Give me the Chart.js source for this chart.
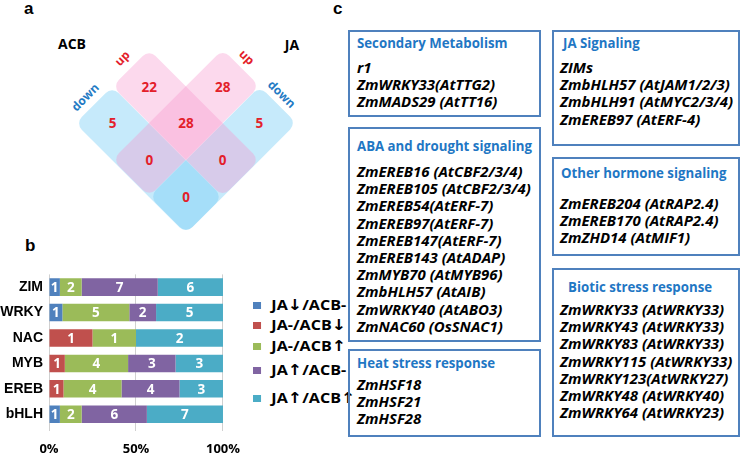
<!DOCTYPE html>
<html>
<head>
<meta charset="utf-8">
<script src="https://cdn.jsdelivr.net/npm/chart.js"></script>
<style>
  body { margin:0; width:742px; height:458px; position:relative; overflow:hidden; background:#fff; font-family:"Open Sans", "Noto Sans", sans-serif; }
  .abs { position:absolute; white-space:nowrap; }
  .panel { font-family:"Liberation Sans", Arial, sans-serif; font-weight:bold; font-size:17px; line-height:16px; color:#000; }
  .rect { position:absolute; border-radius:9px; }
  .num { position:absolute; color:#e3202a; font-weight:bold; font-size:13.5px; transform:translate(-50%,-50%); }
  .lab { position:absolute; font-weight:bold; font-size:14px; transform:translate(-50%,-50%); }
  .box { position:absolute; border:2px solid #4f81bd; box-sizing:border-box; z-index:2; }
  .title { position:absolute; color:#1f77c4; font-weight:bold; font-size:14px; line-height:16px; transform-origin:0 50%; white-space:nowrap; }
  .item { position:absolute; color:#000; font-weight:bold; font-style:italic; font-size:13.5px; line-height:16px; transform-origin:0 50%; white-space:nowrap; }
  .leg { position:absolute; font-weight:bold; font-size:14px; line-height:16px; transform-origin:0 50%; white-space:nowrap; }
  .leg span { display:inline-block; width:7px; height:7px; margin-right:9px; vertical-align:middle; position:relative; top:-1px; }
  .leg b { font-family:"DejaVu Sans", sans-serif; font-weight:bold; font-size:15px; }
</style>
</head>
<body>
<div class="abs panel" style="left:24px;top:1px;">a</div>
<div class="abs panel" style="left:25px;top:238px;">b</div>
<div class="abs panel" style="left:333px;top:1px;">c</div>

<div id="venn"></div>
<div id="chartBox" class="abs" style="left:0;top:260px;width:250px;height:198px;">
  <canvas id="barChart" width="250" height="198"></canvas>
</div>
<div id="legendBox" class="abs" style="left:250px;top:290px;width:100px;height:125px;"></div>
<div id="boxes"></div>

<script>
// panel a: venn counts
const vennCounts = { acbUpOnly: 22, jaUpOnly: 28, both: 28, acbDownOnly: 5, jaDownOnly: 5, acbDownJaUp: 0, acbUpJaDown: 0, bothDown: 0 };

// panel b: stacked bars (gene counts per family)
const categories = ['ZIM', 'WRKY', 'NAC', 'MYB', 'EREB', 'bHLH'];
const seriesNames = ['JA\u2193/ACB-', 'JA-/ACB\u2193', 'JA-/ACB\u2191', 'JA\u2191/ACB-', 'JA\u2191/ACB\u2191'];
const jaDownAcbNone = [1, 1, 0, 0, 0, 1];
const jaNoneAcbDown = [0, 0, 1, 1, 1, 0];
const jaNoneAcbUp   = [2, 5, 1, 4, 4, 2];
const jaUpAcbNone   = [7, 2, 0, 3, 4, 6];
const jaUpAcbUp     = [6, 5, 2, 3, 3, 7];
const seriesColors = ['#4f81bd', '#c0504d', '#9bbb59', '#8064a2', '#4bacc6'];
const xTicks = [0, 50, 100];

// panel c: gene lists
const secondaryMetabolism = ['r1', 'ZmWRKY33(AtTTG2)', 'ZmMADS29 (AtTT16)'];
const abaDrought = ['ZmEREB16 (AtCBF2/3/4)', 'ZmEREB105 (AtCBF2/3/4)', 'ZmEREB54(AtERF-7)', 'ZmEREB97(AtERF-7)',
  'ZmEREB147(AtERF-7)', 'ZmEREB143 (AtADAP)', 'ZmMYB70 (AtMYB96)', 'ZmbHLH57 (AtAIB)', 'ZmWRKY40 (AtABO3)', 'ZmNAC60 (OsSNAC1)'];
const heatStress = ['ZmHSF18', 'ZmHSF21', 'ZmHSF28'];
const jaSignaling = ['ZIMs', 'ZmbHLH57 (AtJAM1/2/3)', 'ZmbHLH91 (AtMYC2/3/4)', 'ZmEREB97 (AtERF-4)'];
const otherHormone = ['ZmEREB204 (AtRAP2.4)', 'ZmEREB170 (AtRAP2.4)', 'ZmZHD14 (AtMIF1)'];
const bioticStress = ['ZmWRKY33 (AtWRKY33)', 'ZmWRKY43 (AtWRKY33)', 'ZmWRKY83 (AtWRKY33)', 'ZmWRKY115 (AtWRKY33)',
  'ZmWRKY123(AtWRKY27)', 'ZmWRKY48 (AtWRKY40)', 'ZmWRKY64 (AtWRKY23)'];

// squeeze a group of texts so a sample line gets the width seen in the figure
function fitWidth(els, sampleEl, target) {
  const s = target / sampleEl.offsetWidth;
  els.forEach(el => { el.style.transform = `translateY(-50%) scaleX(${s})`; });
}

// ---- venn (diamond grid) ----
const venn = document.getElementById('venn');
const cx0 = 186, cy0 = 123.3, d = 36.7;      // centre cell, half diagonal
const side = d * Math.SQRT2;
const cell = (i, j) => [cx0 + d * (i - j), cy0 + d * (i + j)];
const pink = 'rgba(247,150,205,0.36)', blue = 'rgba(120,205,245,0.42)';
[
  { c: cell(0, 1), rot: 45, col: blue },   // ACB down
  { c: cell(1, 0), rot: -45, col: blue },  // JA down
  { c: cell(0, 0), rot: 45, col: pink },   // ACB up
  { c: cell(0, 0), rot: -45, col: pink }   // JA up
].forEach(r => {
  const el = document.createElement('div');
  el.className = 'rect';
  el.style.cssText += `left:${r.c[0] - side * 1.5}px;top:${r.c[1] - side / 2}px;width:${side * 3}px;height:${side}px;background:${r.col};transform:rotate(${r.rot}deg);`;
  venn.appendChild(el);
});
[
  [cell(-1, 0), vennCounts.acbUpOnly], [cell(0, -1), vennCounts.jaUpOnly], [cell(0, 0), vennCounts.both],
  [cell(-1, 1), vennCounts.acbDownOnly], [cell(1, -1), vennCounts.jaDownOnly], [cell(0, 1), vennCounts.acbDownJaUp],
  [cell(1, 0), vennCounts.acbUpJaDown], [cell(1, 1), vennCounts.bothDown]
].forEach(([p, v]) => {
  const el = document.createElement('div');
  el.className = 'num';
  el.style.left = p[0] + 'px'; el.style.top = p[1] + 'px';
  el.textContent = v;
  venn.appendChild(el);
});
[
  { t: 'ACB', x: 72, y: 43, col: '#000', rot: 0, size: 14 },
  { t: 'JA', x: 292, y: 44, col: '#000', rot: 0, size: 14 },
  { t: 'up', x: 122, y: 58, col: '#e3202a', rot: -45, size: 12 },
  { t: 'down', x: 85, y: 97, col: '#1f7ac4', rot: -45, size: 12 },
  { t: 'up', x: 247, y: 57, col: '#e3202a', rot: 45, size: 12 },
  { t: 'down', x: 282, y: 94, col: '#1f7ac4', rot: 45, size: 12 }
].forEach(l => {
  const el = document.createElement('div');
  el.className = 'lab';
  el.style.cssText += `left:${l.x}px;top:${l.y}px;color:${l.col};font-size:${l.size}px;transform:translate(-50%,-50%) rotate(${l.rot}deg);`;
  el.textContent = l.t;
  venn.appendChild(el);
});

// ---- stacked bar chart ----
const countSeries = [jaDownAcbNone, jaNoneAcbDown, jaNoneAcbUp, jaUpAcbNone, jaUpAcbUp];
const totals = categories.map((_, i) => countSeries.reduce((s, arr) => s + arr[i], 0));

const countLabels = {
  id: 'countLabels',
  afterDatasetsDraw(chart) {
    const ctx = chart.ctx;
    ctx.save();
    ctx.fillStyle = '#fff';
    ctx.font = 'bold 13.5px "Open Sans"';
    ctx.textAlign = 'center';
    ctx.textBaseline = 'middle';
    chart.data.datasets.forEach((ds, di) => {
      chart.getDatasetMeta(di).data.forEach((bar, i) => {
        const n = ds.counts[i];
        if (!n) return;
        ctx.fillText(n, (bar.x + bar.base) / 2, bar.y + 1);
      });
    });
    ctx.restore();
  }
};

new Chart(document.getElementById('barChart').getContext('2d'), {
  type: 'bar',
  data: {
    labels: categories,
    datasets: countSeries.map((arr, k) => ({
      label: seriesNames[k],
      counts: arr,
      data: arr.map((v, i) => v / totals[i] * 100),
      backgroundColor: seriesColors[k],
      barPercentage: 0.69,
      categoryPercentage: 1
    }))
  },
  options: {
    indexAxis: 'y',
    responsive: false,
    animation: false,
    devicePixelRatio: 1,
    layout: { padding: { top: 7, right: 8, left: 0, bottom: 0 } },
    plugins: { legend: { display: false }, tooltip: { enabled: false } },
    scales: {
      x: {
        stacked: true, min: 0, max: 100,
        afterBuildTicks(axis) { axis.ticks = xTicks.map(v => ({ value: v })); },
        afterFit(axis) { axis.height = 31; },
        ticks: { callback: v => v + '%', color: '#000', padding: 10, maxRotation: 0, font: { family: 'Open Sans', weight: 'bold', size: 13 } },
        grid: { color: '#d0d0d0', tickLength: 4 },
        border: { display: false }
      },
      y: {
        stacked: true,
        afterFit(axis) { axis.width = 49; },
        ticks: { color: '#000', padding: 6, font: { family: "'Liberation Sans'", weight: 'bold', size: 14 } },
        grid: { display: false, drawTicks: false },
        border: { display: false }
      }
    }
  },
  plugins: [countLabels]
});

// legend
const legendY = [305, 325, 346, 370, 398];
const legendBox = document.getElementById('legendBox');
const legEls = seriesNames.map((name, k) => {
  const el = document.createElement('div');
  el.className = 'leg';
  el.style.left = '3px';
  el.style.top = (legendY[k] - 290) + 'px';
  el.innerHTML = `<span style="background:${seriesColors[k]}"></span>` + name.replace(/[\u2191\u2193]/g, a => `<b>${a}</b>`);
  legendBox.appendChild(el);
  return el;
});
fitWidth(legEls, legEls[0], 93);

// ---- panel c boxes ----
const boxDefs = [
  { x: 348, y: 30, w: 193, h: 87, title: 'Secondary Metabolism', tx: 357, ty: 43, ix: 357, iy: 68, items: secondaryMetabolism },
  { x: 348, y: 127, w: 193, h: 215, title: 'ABA and drought signaling', tx: 357, ty: 146, ix: 357, iy: 172, items: abaDrought },
  { x: 348, y: 349, w: 193, h: 88, title: 'Heat stress response', tx: 357, ty: 363, ix: 357, iy: 385, items: heatStress },
  { x: 552, y: 30, w: 188, h: 116, title: 'JA Signaling', tx: 563, ty: 43, ix: 560, iy: 68, items: jaSignaling },
  { x: 552, y: 157, w: 188, h: 99, title: 'Other hormone signaling', tx: 561, ty: 173, ix: 560, iy: 204, items: otherHormone },
  { x: 552, y: 268, w: 188, h: 169, title: 'Biotic stress response', tx: 568, ty: 287, ix: 560, iy: 310, items: bioticStress }
];
const boxes = document.getElementById('boxes');
const lineH = 17.2;
const titleEls = [], itemEls = [];
boxDefs.forEach(b => {
  const bx = document.createElement('div');
  bx.className = 'box';
  bx.style.cssText += `left:${b.x}px;top:${b.y}px;width:${b.w}px;height:${b.h}px;`;
  boxes.appendChild(bx);
  const t = document.createElement('div');
  t.className = 'title';
  t.style.left = b.tx + 'px'; t.style.top = b.ty + 'px';
  t.textContent = b.title;
  boxes.appendChild(t);
  titleEls.push(t);
  b.items.forEach((txt, k) => {
    const it = document.createElement('div');
    it.className = 'item';
    it.style.left = b.ix + 'px'; it.style.top = (b.iy + k * lineH) + 'px';
    it.textContent = txt;
    boxes.appendChild(it);
    itemEls.push(it);
  });
});
fitWidth(titleEls, titleEls[1], 175);
fitWidth(itemEls, itemEls[3], 166);
</script>
</body>
</html>
